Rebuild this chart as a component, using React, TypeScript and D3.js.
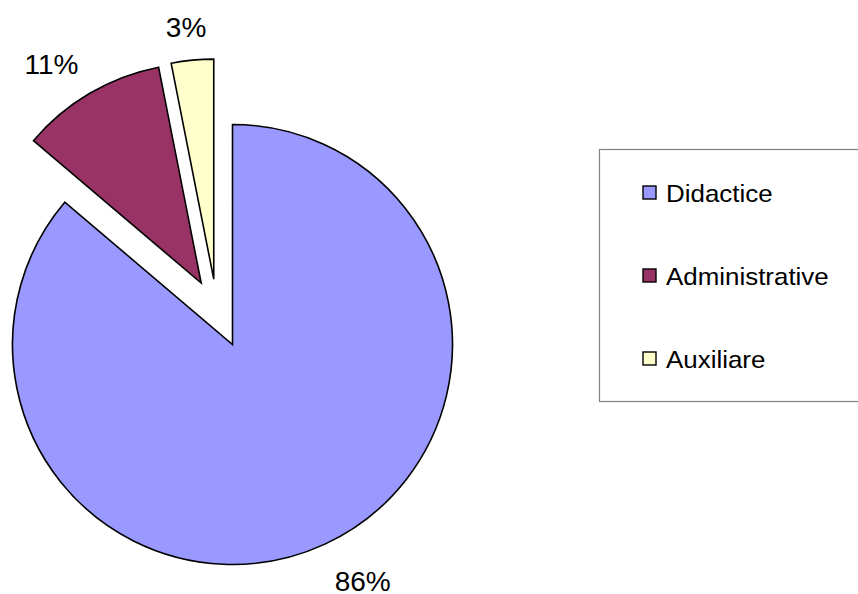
import React, { useEffect, useRef } from 'react';
import * as d3 from 'd3';

const categories = ['Didactice', 'Administrative', 'Auxiliare'];
const values = [86.2, 10.7, 3.1];
const colors = ['#9999FF', '#993366', '#FFFFCC'];
// how far each slice is pulled out, and in which direction (degrees, clockwise from top)
const explodeDist = [0, 69, 68];
const explodeDir = [0, -27, -16];
// label placement tweaks: distance from slice apex and angle nudge (degrees)
const labelDist = [270, 265, 253];
const labelNudge = [-4, -4, -0.7];

const App: React.FC = () => {
    const svgRef = useRef<SVGSVGElement>(null);

    useEffect(() => {
        if (!svgRef.current) return;

        const svg = d3.select(svgRef.current);
        svg.selectAll('*').remove();

        const cx = 232.5;
        const cy = 344.5;
        const radius = 220;
        const total = d3.sum(values);

        const pie = d3.pie<number>().sort(null).value(d => d);
        const arcs = pie(values);
        const arc = d3.arc<d3.PieArcDatum<number>>().innerRadius(0).outerRadius(radius);

        const g = svg.append('g').attr('transform', `translate(${cx},${cy})`);

        arcs.forEach((a, i) => {
            const dir = (explodeDir[i] * Math.PI) / 180;
            const ox = Math.sin(dir) * explodeDist[i];
            const oy = -Math.cos(dir) * explodeDist[i];
            const slice = g.append('g').attr('transform', `translate(${ox},${oy})`);

            slice.append('path')
                .attr('d', arc(a) as string)
                .attr('fill', colors[i])
                .attr('stroke', '#000')
                .attr('stroke-width', 1.6)
                .attr('stroke-linejoin', 'miter');

            // percentage label outside the slice
            const mid = (a.startAngle + a.endAngle) / 2 + (labelNudge[i] * Math.PI) / 180;
            slice.append('text')
                .attr('x', Math.sin(mid) * labelDist[i])
                .attr('y', -Math.cos(mid) * labelDist[i])
                .attr('text-anchor', 'middle')
                .attr('dominant-baseline', 'central')
                .attr('font-family', 'Liberation Sans, Arial, sans-serif')
                .attr('font-size', '28px')
                .attr('fill', '#000')
                .text(`${Math.round((a.value / total) * 100)}%`);
        });

        // Legend
        const legend = svg.append('g');
        legend.append('rect')
            .attr('x', 599.5)
            .attr('y', 149.5)
            .attr('width', 270)
            .attr('height', 252)
            .attr('fill', '#fff')
            .attr('stroke', '#808080')
            .attr('stroke-width', 1.2);

        const ly = d3.scalePoint<string>().domain(categories).range([193, 359]);

        categories.forEach((c, i) => {
            const y = ly(c) as number;
            legend.append('rect')
                .attr('x', 643)
                .attr('y', y - 7)
                .attr('width', 13)
                .attr('height', 13)
                .attr('fill', colors[i])
                .attr('stroke', '#000')
                .attr('stroke-width', 1.4);
            legend.append('text')
                .attr('transform', `translate(666,${y}) scale(1.08,1)`)
                .attr('dominant-baseline', 'central')
                .attr('font-family', 'Liberation Sans, Arial, sans-serif')
                .attr('font-size', '24px')
                .attr('fill', '#000')
                .text(c);
        });
    }, []);

    return (
        <svg
            ref={svgRef}
            width={858}
            height={594}
            style={{ position: 'absolute', left: 0, top: 0, background: '#fff' }}
        />
    );
};

export default App;
